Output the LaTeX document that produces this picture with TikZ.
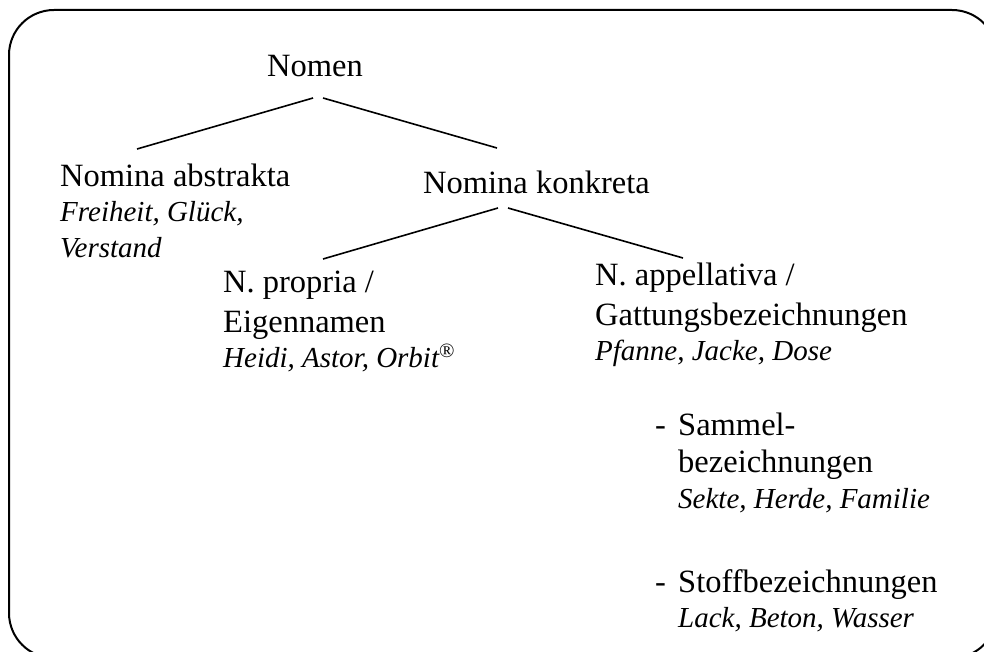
\documentclass[tikz,border=0pt]{standalone}
\usepackage{fontspec}
\setmainfont{Liberation Serif}
\usetikzlibrary{calc}
\begin{document}
\begin{tikzpicture}[x=1pt,y=-1pt,
  lbl/.style={anchor=base west,inner sep=0pt,font=\fontsize{32.5}{39}\selectfont},
  ex/.style={anchor=base west,inner sep=0pt,font=\fontsize{29}{35}\selectfont\itshape},
  conn/.style={line width=1.6pt}]
\useasboundingbox (0,0) rectangle (984,652);
\clip (0,0) rectangle (984,652);
\draw[line width=2pt, rounded corners=45pt] (9,10) rectangle (997,658);

\node[lbl] (nomen) at (267,77) {Nomen};

\node[lbl] (abstr) at (60,187) {Nomina abstrakta};
\node[ex] (abstrA) at (60,222) {Freiheit, Glück,};
\node[ex] (abstrB) at (60,257) {Verstand};

\node[lbl] (konkr) at (423,194) {Nomina konkreta};

\node[lbl] (propr) at (223,292) {N. propria /};
\node[lbl] (proprB) at (223,332) {Eigennamen};
\node[ex] (proprC) at (223,367) {Heidi, Astor, Orbit\textsuperscript{\upshape\textregistered}};

\node[lbl] (appel) at (595,285) {N. appellativa /};
\node[lbl] (appelB) at (595,325) {Gattungsbezeichnungen};
\node[ex] (appelC) at (595,360) {Pfanne, Jacke, Dose};

\node[lbl] (samm) at (655,435) {\makebox[23pt][l]{-}Sammel-};
\node[lbl] (sammB) at (678,472) {bezeichnungen};
\node[ex] (sammC) at (678,508) {Sekte, Herde, Familie};

\node[lbl] (stoff) at (655,592) {\makebox[23pt][l]{-}Stoffbezeichnungen};
\node[ex] (stoffB) at (678,627) {Lack, Beton, Wasser};

\draw[conn] ($(nomen.base)+(-2,21)$) -- ($(abstr.base west)+(77,-38)$);
\draw[conn] ($(nomen.base)+(8,21)$) -- ($(konkr.base west)+(74,-46)$);
\draw[conn] ($(konkr.base west)+(75,14)$) -- ($(propr.base west)+(100,-33)$);
\draw[conn] ($(konkr.base west)+(85,14)$) -- ($(appel.base west)+(88,-27)$);
\end{tikzpicture}
\end{document}
